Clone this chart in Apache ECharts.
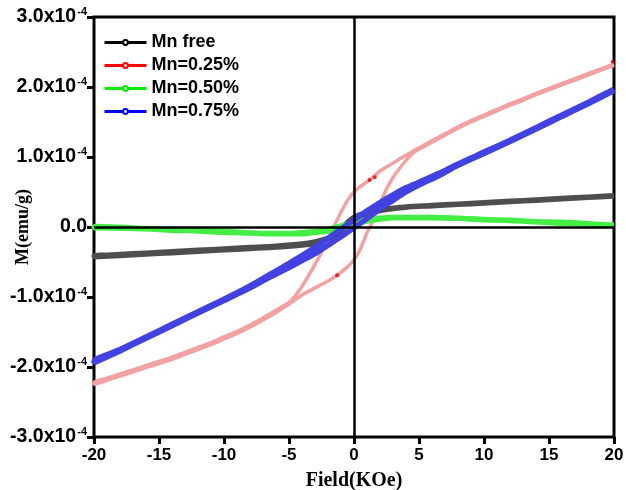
<!DOCTYPE html>
<html>
<head>
<meta charset="utf-8">
<script src="https://cdn.jsdelivr.net/npm/echarts@6/dist/echarts.min.js"></script>
<style>
  html, body { margin: 0; padding: 0; background: #ffffff; }
  #chart { width: 626px; height: 490px; }
</style>
</head>
<body>
<div id="chart"></div>
<script>
// M–H loops, field in kOe, magnetisation in units of 1e-4 emu/g.
// Each loop is listed as the descending branch (+20 → -20) followed by the ascending branch.
const fieldTicks = [-20, -15, -10, -5, 0, 5, 10, 15, 20];
const momentTicks = [-3, -2, -1, 0, 1, 2, 3];

const seriesNames = ['Mn free', 'Mn=0.25%', 'Mn=0.50%', 'Mn=0.75%'];

const mnFree = [
  [20, 0.45], [18, 0.43], [16, 0.41], [14, 0.39], [12, 0.37], [10, 0.35], [8, 0.33], [6, 0.31],
  [4, 0.29], [3, 0.27], [2, 0.25], [1.5, 0.23], [1, 0.21], [0.5, 0.18], [0, 0.14], [-0.5, 0.07],
  [-1, -0.02], [-1.5, -0.10], [-2, -0.16], [-3, -0.21], [-4, -0.24], [-6, -0.27], [-8, -0.29],
  [-10, -0.31], [-12, -0.33], [-14, -0.35], [-16, -0.37], [-18, -0.39], [-20, -0.41],
  [-20, -0.43], [-18, -0.41], [-16, -0.39], [-14, -0.37], [-12, -0.35], [-10, -0.33], [-8, -0.31],
  [-6, -0.29], [-4, -0.26], [-3, -0.24], [-2, -0.20], [-1.5, -0.16], [-1, -0.10], [-0.5, -0.02],
  [0, 0.06], [0.5, 0.13], [1, 0.18], [1.5, 0.21], [2, 0.23], [3, 0.26], [4, 0.28], [6, 0.30],
  [8, 0.32], [10, 0.34], [12, 0.36], [14, 0.38], [16, 0.40], [18, 0.42], [20, 0.44]
];

const mn025 = [
  [20, 2.33], [19, 2.26], [18, 2.19], [17, 2.12], [16, 2.05], [15, 1.98], [14, 1.91], [13, 1.83],
  [12, 1.76], [11, 1.68], [10, 1.60], [9, 1.52], [8, 1.43], [7, 1.33], [6, 1.23], [5, 1.13],
  [4.5, 1.08], [3.5, 0.97], [2.8, 0.89], [2, 0.80], [1.5, 0.72], [1.1, 0.66], [0.5, 0.58],
  [0, 0.50], [-0.5, 0.38], [-1, 0.21], [-1.5, 0.02], [-2, -0.18], [-2.6, -0.40], [-3.2, -0.60],
  [-4, -0.85], [-4.9, -1.06], [-6, -1.19], [-7, -1.30], [-8, -1.40], [-9, -1.49], [-10, -1.57],
  [-11, -1.65], [-12, -1.72], [-13, -1.79], [-14, -1.86], [-15, -1.92], [-16, -1.98], [-17, -2.04],
  [-18, -2.10], [-19, -2.16], [-20, -2.22],
  [-20, -2.25], [-19, -2.19], [-18, -2.13], [-17, -2.07], [-16, -2.01], [-15, -1.95], [-14, -1.89],
  [-13, -1.82], [-12, -1.75], [-11, -1.68], [-10, -1.60], [-9, -1.52], [-8, -1.43], [-7, -1.33],
  [-6, -1.22], [-4.9, -1.09], [-4, -0.97], [-3, -0.87], [-2, -0.77], [-1.3, -0.69], [-0.5, -0.57],
  [0, -0.47], [0.5, -0.31], [1, -0.08], [1.5, 0.10], [2, 0.33], [2.6, 0.58], [3.2, 0.76],
  [4, 0.95], [4.5, 1.05], [5, 1.11], [6, 1.21], [7, 1.31], [8, 1.41], [9, 1.50], [10, 1.58],
  [11, 1.66], [12, 1.74], [13, 1.81], [14, 1.89], [15, 1.96], [16, 2.03], [17, 2.10], [18, 2.17],
  [19, 2.24], [20, 2.31]
];

// isolated filled points on the 0.25% loop
const mn025Dots = [[1.2, 0.67], [1.6, 0.71], [-1.3, -0.69], [19.9, 2.36]];

const mn050 = [
  [20, 0.03], [18, 0.05], [16, 0.07], [14, 0.08], [12, 0.10], [10, 0.11], [8, 0.13], [6, 0.14],
  [4, 0.14], [3, 0.14], [2, 0.13], [1, 0.11], [0, 0.07], [-1, 0.02], [-2, -0.03], [-3, -0.06],
  [-4, -0.08], [-5, -0.09], [-6.5, -0.09], [-8, -0.08], [-10, -0.06], [-12, -0.05], [-14, -0.03],
  [-16, -0.02], [-18, 0.00], [-20, 0.01],
  [-20, -0.01], [-18, -0.02], [-16, -0.03], [-14, -0.05], [-12, -0.06], [-10, -0.08], [-8, -0.09],
  [-6.5, -0.10], [-5, -0.10], [-4, -0.10], [-3, -0.08], [-2, -0.06], [-1, -0.02], [0, 0.03],
  [1, 0.08], [2, 0.11], [3, 0.13], [4, 0.13], [6, 0.13], [8, 0.12], [10, 0.10], [12, 0.09],
  [14, 0.07], [16, 0.05], [18, 0.04], [20, 0.02]
];

const mn075 = [
  [20, 1.97], [18, 1.78], [16, 1.60], [14, 1.42], [12, 1.24], [10, 1.07], [8, 0.90], [6.6, 0.77],
  [5, 0.64], [4, 0.56], [3, 0.46], [2, 0.35], [1, 0.23], [0, 0.10], [-1, -0.03], [-2, -0.16],
  [-3, -0.29], [-4, -0.41], [-5, -0.52], [-6.5, -0.68], [-8, -0.84], [-10, -1.03], [-12, -1.21],
  [-14, -1.39], [-16, -1.57], [-18, -1.75], [-20, -1.92],
  [-20, -1.94], [-18, -1.77], [-16, -1.59], [-14, -1.41], [-12, -1.23], [-10, -1.05], [-8, -0.87],
  [-6.5, -0.72], [-5, -0.58], [-4, -0.48], [-3, -0.38], [-2, -0.26], [-1, -0.14], [0, -0.01],
  [1, 0.12], [2, 0.26], [3, 0.38], [4, 0.50], [5, 0.60], [6.6, 0.74], [8, 0.88], [10, 1.05],
  [12, 1.22], [14, 1.40], [16, 1.58], [18, 1.76], [20, 1.95]
];

const legendColors = ['#000000', '#ff0000', '#00ee00', '#0000ff'];
const bandColors = ['#4e4e4e', '#f2a2a2', '#44ee44', '#4242e2'];

const sansBold = { fontFamily: 'Liberation Sans, Arial, sans-serif', fontWeight: 'bold', color: '#000' };
const serifBold = { fontFamily: 'Liberation Serif, Times New Roman, serif', fontWeight: 'bold', color: '#000' };

function momentLabel(v) {
  if (Math.abs(v) < 1e-9) return '{m|0.0}';
  return '{m|' + v.toFixed(1) + 'x10}{e|-4}';
}

function loopSeries(idx, data, width) {
  return {
    name: seriesNames[idx],
    type: 'line',
    data: data,
    smooth: 0.25,
    symbol: 'emptyCircle',
    symbolSize: 5,
    showSymbol: false,
    z: 3,
    lineStyle: { color: bandColors[idx], width: width },
    itemStyle: { color: legendColors[idx], borderColor: legendColors[idx] }
  };
}

const chart = echarts.init(document.getElementById('chart'), null, { renderer: 'canvas' });

chart.setOption({
  animation: false,
  backgroundColor: '#ffffff',
  grid: {
    left: 94, right: 12, top: 17, bottom: 53,
    outerBoundsMode: 'none',
    show: true, borderColor: '#000', borderWidth: 3, backgroundColor: 'transparent'
  },
  legend: {
    left: 103, top: 33, orient: 'vertical', padding: 0,
    itemWidth: 42, itemHeight: 6, itemGap: 4,
    textStyle: Object.assign({ fontSize: 18, lineHeight: 19 }, sansBold),
    data: seriesNames.map((n, i) => ({
      name: n,
      itemStyle: { color: legendColors[i], borderColor: legendColors[i], borderWidth: 1 },
      lineStyle: { color: legendColors[i], width: 3 }
    }))
  },
  xAxis: {
    type: 'value', min: -20, max: 20, interval: 5,
    name: 'Field(KOe)', nameLocation: 'middle', nameGap: 34, nameMoveOverlap: false,
    nameTextStyle: Object.assign({ fontSize: 20 }, serifBold),
    axisLine: { show: false, onZero: false },
    axisTick: { show: true, length: 7, lineStyle: { color: '#000', width: 3 } },
    axisLabel: Object.assign({ fontSize: 17, margin: 10 }, sansBold),
    splitLine: { show: false }
  },
  yAxis: {
    type: 'value', min: -3, max: 3, interval: 1,
    name: 'M(emu/g)', nameLocation: 'middle', nameGap: 62, nameRotate: 90, nameMoveOverlap: false,
    nameTextStyle: Object.assign({ fontSize: 18 }, serifBold),
    axisLine: { show: false, onZero: false },
    axisTick: { show: true, length: 7, lineStyle: { color: '#000', width: 3 } },
    axisLabel: {
      margin: 7,
      formatter: momentLabel,
      rich: {
        m: Object.assign({ fontSize: 19.5 }, sansBold),
        e: Object.assign({ fontSize: 11, verticalAlign: 'top', padding: [0, 0, 10, 1] }, sansBold)
      }
    },
    splitLine: { show: false }
  },
  series: [
    {
      // zero lines of the field and moment axes
      type: 'line', data: [], silent: true, z: 1,
      markLine: {
        silent: true, symbol: 'none', animation: false,
        label: { show: false },
        lineStyle: { color: '#000', width: 2.5, type: 'solid' },
        data: [{ xAxis: 0 }, { yAxis: 0 }]
      }
    },
    loopSeries(0, mnFree, 5),
    loopSeries(1, mn025, 3.5),
    loopSeries(2, mn050, 5),
    loopSeries(3, mn075, 5.5),
    {
      type: 'scatter', data: mn025Dots, symbol: 'circle', symbolSize: 4, z: 4, silent: true,
      itemStyle: { color: '#e00000' }
    }
  ]
});
</script>
</body>
</html>
